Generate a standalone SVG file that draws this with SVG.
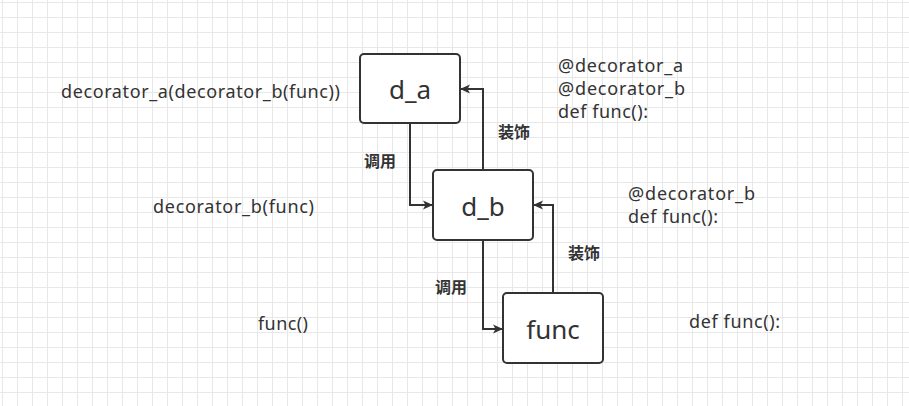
<svg xmlns="http://www.w3.org/2000/svg" width="909" height="406" viewBox="0 0 909 406">
<style>
.box{fill:#fff;stroke:#333;stroke-width:2}
.lbl{font-family:"Noto Sans","Open Sans","Liberation Sans",sans-serif;fill:#333;text-anchor:middle;font-size:26px}
.t{font-family:"Noto Sans","Open Sans","Liberation Sans",sans-serif;fill:#333;font-size:18px}
.cn{font-family:"Noto Sans CJK SC",sans-serif;font-weight:bold;fill:#333;font-size:16px;text-anchor:middle}
.edge{fill:none;stroke:#333;stroke-width:2}
</style>
<defs>
<pattern id="minor" width="15" height="15" patternUnits="userSpaceOnUse" x="2" y="2">
<path d="M0 0.5H15M0.5 0V15" fill="none" stroke="#e8e8e8" stroke-width="1"/>
</pattern>
<marker id="arr" markerWidth="10" markerHeight="10" refX="9" refY="5" orient="auto" markerUnits="userSpaceOnUse">
<path d="M0 0.5L10 5L0 9.5L2.5 5Z" fill="#333"/>
</marker>
</defs>
<rect width="909" height="406" fill="#fff"/>
<rect width="909" height="406" fill="url(#minor)"/>
<g id="connectors">
<path class="edge" d="M410 123V205H432" marker-end="url(#arr)"/>
<path class="edge" d="M483 170V89H461" marker-end="url(#arr)"/>
<path class="edge" d="M483 240V329H502" marker-end="url(#arr)"/>
<path class="edge" d="M553 293V205H534" marker-end="url(#arr)"/>
<text class="cn" x="380" y="167">调用</text>
<text class="cn" x="514" y="138">装饰</text>
<text class="cn" x="451" y="293">调用</text>
<text class="cn" x="584" y="259">装饰</text>
</g>
<g id="d_a">
<rect class="box" x="360" y="54" width="100" height="69" rx="4"/>
<text class="lbl" x="410" y="99">d_a</text>
</g>
<g id="d_b">
<rect class="box" x="433" y="170" width="100" height="70" rx="4"/>
<text class="lbl" x="483" y="216">d_b</text>
</g>
<g id="func">
<rect class="box" x="503" y="293" width="100" height="70" rx="4"/>
<text class="lbl" x="553" y="339">func</text>
</g>
<g id="texts">
<text class="t" x="61" y="98" textLength="279">decorator_a(decorator_b(func))</text>
<text class="t" x="153" y="213" textLength="161">decorator_b(func)</text>
<text class="t" x="258" y="330" textLength="50">func()</text>
<text class="t" x="558" y="72" textLength="125">@decorator_a</text>
<text class="t" x="558" y="95" textLength="127">@decorator_b</text>
<text class="t" x="558" y="118" textLength="90">def func():</text>
<text class="t" x="628" y="200" textLength="127">@decorator_b</text>
<text class="t" x="628" y="223" textLength="90">def func():</text>
<text class="t" x="689" y="328" textLength="91">def func():</text>
</g>
</svg>
